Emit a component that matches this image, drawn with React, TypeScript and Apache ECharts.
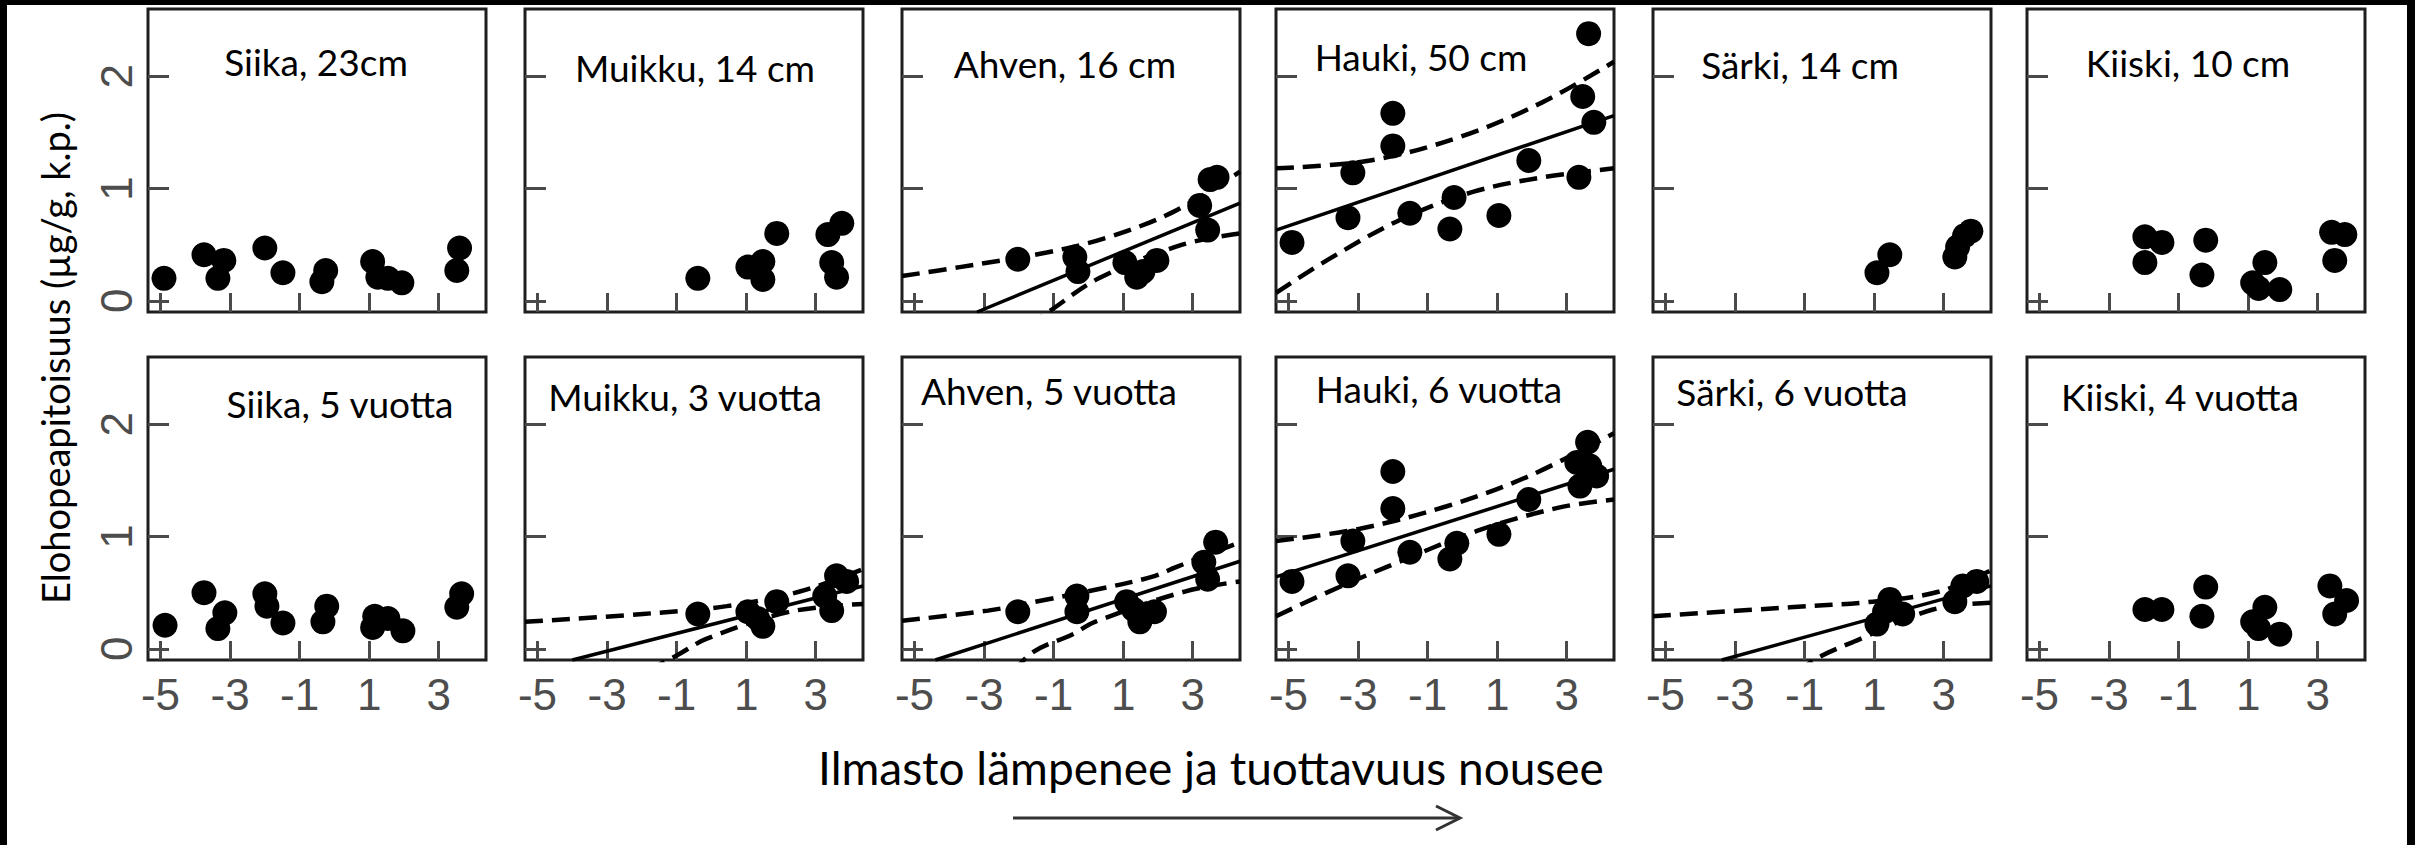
import React, { useEffect, useRef } from 'react';
import * as echarts from 'echarts';

type P = [number, number][];

// ---------- texts ----------
const panelTitles = [
  'Siika, 23cm', 'Muikku, 14 cm', 'Ahven, 16 cm', 'Hauki, 50 cm', 'Särki, 14 cm', 'Kiiski, 10 cm',
  'Siika, 5 vuotta', 'Muikku, 3 vuotta', 'Ahven, 5 vuotta', 'Hauki, 6 vuotta', 'Särki, 6 vuotta', 'Kiiski, 4 vuotta',
];
const yAxisTitle = 'Elohopeapitoisuus (µg/g, k.p.)';
const xAxisTitle = 'Ilmasto lämpenee ja tuottavuus nousee';

// ---------- axes ----------
const xTicks = [-5, -3, -1, 1, 3];
const yTicks = [0, 1, 2];
const xMin = -5.36, xMax = 4.36;
const yMin = -0.1, yMax = 2.6;

// ---------- data (row 1: same length fish) ----------
const siika23: P = [[-4.9, 0.2], [-3.75, 0.41], [-3.18, 0.36], [-3.35, 0.2], [-2.0, 0.47], [-1.48, 0.25], [-0.25, 0.27], [-0.36, 0.17], [1.1, 0.35], [1.25, 0.21], [1.54, 0.2], [1.94, 0.16], [3.6, 0.47], [3.52, 0.27]];
const muikku14: P = [[-0.39, 0.2], [1.05, 0.3], [1.48, 0.35], [1.48, 0.19], [1.88, 0.6], [3.35, 0.59], [3.75, 0.69], [3.46, 0.34], [3.6, 0.21]];
const ahven16: P = [[-2.03, 0.37], [-0.39, 0.39], [-0.3, 0.26], [1.05, 0.34], [1.57, 0.26], [1.97, 0.36], [1.39, 0.21], [3.5, 1.08], [3.7, 1.1], [3.2, 0.85], [3.43, 0.63]];
const hauki50: P = [[-4.9, 0.52], [-3.29, 0.74], [-3.15, 1.14], [-2.0, 1.67], [-2.0, 1.38], [-1.51, 0.78], [-0.36, 0.64], [-0.24, 0.92], [1.05, 0.76], [1.91, 1.25], [3.35, 1.1], [3.46, 1.82], [3.63, 2.38], [3.78, 1.59]];
const saerki14: P = [[1.08, 0.25], [1.45, 0.41], [3.32, 0.39], [3.4, 0.48], [3.6, 0.58], [3.78, 0.62]];
const kiiski10: P = [[-1.97, 0.57], [-1.48, 0.52], [-1.97, 0.34], [-0.22, 0.54], [-0.33, 0.23], [1.48, 0.34], [1.13, 0.16], [1.3, 0.11], [1.91, 0.1], [3.4, 0.61], [3.78, 0.59], [3.49, 0.36]];

// ---------- data (row 2: same age fish) ----------
const siika5: P = [[-4.87, 0.21], [-3.75, 0.5], [-3.15, 0.32], [-3.35, 0.18], [-2.0, 0.49], [-1.94, 0.38], [-1.48, 0.23], [-0.22, 0.38], [-0.33, 0.24], [1.16, 0.29], [1.1, 0.19], [1.54, 0.27], [1.97, 0.16], [3.66, 0.49], [3.52, 0.37]];
const muikku3: P = [[-0.39, 0.31], [1.05, 0.33], [1.33, 0.27], [1.48, 0.2], [1.88, 0.42], [3.6, 0.65], [3.89, 0.6], [3.26, 0.47], [3.46, 0.34]];
const ahven5: P = [[-2.03, 0.33], [-0.33, 0.47], [-0.33, 0.33], [1.1, 0.42], [1.48, 0.24], [1.9, 0.33], [1.3, 0.35], [3.66, 0.95], [3.32, 0.77], [3.43, 0.62]];
const hauki6: P = [[-4.9, 0.6], [-3.29, 0.65], [-3.15, 0.96], [-2.0, 1.58], [-2.0, 1.25], [-1.51, 0.86], [-0.36, 0.8], [-0.16, 0.94], [1.05, 1.02], [1.91, 1.33], [3.38, 1.45], [3.6, 1.84], [3.66, 1.63], [3.86, 1.54], [3.29, 1.66]];
const saerki6: P = [[1.45, 0.44], [1.08, 0.22], [1.82, 0.31], [1.3, 0.33], [3.32, 0.42], [3.55, 0.56], [3.95, 0.6]];
const kiiski4: P = [[-1.97, 0.35], [-1.48, 0.35], [-0.22, 0.55], [-0.33, 0.29], [1.48, 0.37], [1.13, 0.24], [1.3, 0.18], [1.91, 0.13], [3.35, 0.56], [3.83, 0.43], [3.49, 0.31]];

// ---------- regression lines and confidence bands ----------
const ahven16Fit: P = [[-3.2, -0.1], [4.36, 0.87]];
const ahven16Upper: P = [[-5.36, 0.22], [-3.7, 0.3], [-1.2, 0.43], [0.5, 0.56], [2.43, 0.79], [4.36, 1.15]];
const ahven16Lower: P = [[-3.7, -0.62], [-1.2, -0.11], [0.3, 0.2], [2.7, 0.5], [4.36, 0.6]];

const hauki50Fit: P = [[-5.36, 0.63], [4.36, 1.65]];
const hauki50Upper: P = [[-5.36, 1.18], [-2.66, 1.25], [-0.07, 1.46], [2.31, 1.77], [4.36, 2.13]];
const hauki50Lower: P = [[-5.36, 0.07], [-3.9, 0.36], [-1.8, 0.72], [0.3, 0.97], [2.31, 1.1], [4.36, 1.18]];

const muikku3Fit: P = [[-4.0, -0.1], [4.36, 0.56]];
const muikku3Upper: P = [[-5.36, 0.24], [-1.97, 0.31], [0.44, 0.38], [2.54, 0.51], [4.36, 0.71]];
const muikku3Lower: P = [[-2.5, -0.3], [-1.0, -0.06], [-0.13, 0.09], [2.25, 0.33], [4.36, 0.4]];

const ahven5Fit: P = [[-4.4, -0.1], [4.36, 0.78]];
const ahven5Upper: P = [[-5.36, 0.25], [-2.89, 0.34], [-1.34, 0.43], [0.27, 0.53], [1.82, 0.64], [2.54, 0.73], [4.36, 0.95]];
const ahven5Lower: P = [[-2.6, -0.4], [-1.68, -0.05], [-0.45, 0.13], [0.19, 0.24], [2.77, 0.51], [4.36, 0.6]];

const hauki6Fit: P = [[-5.36, 0.64], [4.36, 1.6]];
const hauki6Upper: P = [[-5.36, 0.96], [-2.95, 1.07], [-0.45, 1.27], [1.85, 1.53], [4.36, 1.92]];
const hauki6Lower: P = [[-5.36, 0.29], [-3.9, 0.5], [-2.17, 0.73], [0.42, 1.05], [2.8, 1.26], [4.36, 1.33]];

const saerki6Fit: P = [[-3.38, -0.1], [4.36, 0.56]];
const saerki6Upper: P = [[-5.36, 0.29], [-1.42, 0.37], [0.96, 0.42], [2.88, 0.51], [4.36, 0.7]];
const saerki6Lower: P = [[-1.2, -0.2], [-0.56, -0.07], [0.39, 0.06], [2.69, 0.35], [4.36, 0.41]];

const panelPoints: P[] = [siika23, muikku14, ahven16, hauki50, saerki14, kiiski10, siika5, muikku3, ahven5, hauki6, saerki6, kiiski4];
const panelFits: ({ fit: P; upper: P; lower: P } | null)[] = [
  null, null, { fit: ahven16Fit, upper: ahven16Upper, lower: ahven16Lower }, { fit: hauki50Fit, upper: hauki50Upper, lower: hauki50Lower }, null, null,
  null, { fit: muikku3Fit, upper: muikku3Upper, lower: muikku3Lower }, { fit: ahven5Fit, upper: ahven5Upper, lower: ahven5Lower }, { fit: hauki6Fit, upper: hauki6Upper, lower: hauki6Lower }, { fit: saerki6Fit, upper: saerki6Upper, lower: saerki6Lower }, null,
];

// ---------- layout ----------
const W = 2415, H = 845;
const colLefts = [148, 525, 902, 1276, 1653, 2027];
const rowTops = [9, 357];
const panelW = 338, panelH = 303;
const titleCenters: [number, number][] = [
  [316, 61], [695, 67], [1065, 63], [1421, 56], [1800, 64], [2188, 62],
  [340, 403], [685, 396], [1049, 390], [1439, 388], [1792, 391], [2180, 396],
];
const titleFont = 'Lato';

function buildOption(): any {
  const grid: any[] = [], xAxis: any[] = [], yAxis: any[] = [], series: any[] = [];
  for (let i = 0; i < 12; i++) {
    const row = Math.floor(i / 6), col = i % 6;
    grid.push({
      left: colLefts[col], top: rowTops[row], width: panelW, height: panelH,
      show: true, borderColor: '#1e1e1e', borderWidth: 3, backgroundColor: '#fff',
    });
    xAxis.push({
      gridIndex: i, type: 'value', min: xMin, max: xMax, position: 'bottom',
      axisLine: { show: false, onZero: false }, splitLine: { show: false },
      axisTick: { show: true, inside: true, length: 19, customValues: xTicks, lineStyle: { color: '#4a4a4a', width: 3 } },
      axisLabel: {
        show: row === 1, customValues: xTicks, fontSize: 44, color: '#4d4d4d',
        fontFamily: 'Liberation Sans', margin: 12,
      },
    });
    yAxis.push({
      gridIndex: i, type: 'value', min: yMin, max: yMax, position: 'left',
      axisLine: { show: false, onZero: false }, splitLine: { show: false },
      axisTick: { show: true, inside: true, length: 21, customValues: yTicks, lineStyle: { color: '#4a4a4a', width: 3 } },
      axisLabel: {
        show: col === 0, customValues: yTicks, fontSize: 44, color: '#4d4d4d', rotate: 90,
        fontFamily: 'Liberation Sans', margin: 10,
      },
    });
    const f = panelFits[i];
    if (f) {
      series.push({
        type: 'line', xAxisIndex: i, yAxisIndex: i, data: f.fit, symbol: 'none', clip: true,
        lineStyle: { color: '#000', width: 3.5 }, z: 2, silent: true,
      });
      for (const band of [f.upper, f.lower]) {
        series.push({
          type: 'line', xAxisIndex: i, yAxisIndex: i, data: band, symbol: 'none', clip: true, smooth: 0.35,
          lineStyle: { color: '#000', width: 4.5, type: [18, 9] }, z: 2, silent: true,
        });
      }
    }
    series.push({
      type: 'scatter', xAxisIndex: i, yAxisIndex: i, data: panelPoints[i], symbolSize: 25,
      itemStyle: { color: '#000', opacity: 1 }, z: 3, silent: true,
    });
  }

  const graphic: any[] = [
    { type: 'rect', shape: { x: 0, y: 0, width: 7, height: H }, style: { fill: '#000' }, silent: true },
    { type: 'rect', shape: { x: 0, y: 0, width: W, height: 5 }, style: { fill: '#000' }, silent: true },
    { type: 'rect', shape: { x: 2407, y: 0, width: 8, height: H }, style: { fill: '#000' }, silent: true },
  ];
  panelTitles.forEach((t, i) => {
    graphic.push({
      type: 'text', x: titleCenters[i][0], y: titleCenters[i][1], z: 10,
      style: {
        text: t, fill: '#000', font: `37px ${titleFont}`,
        align: 'center', verticalAlign: 'middle', textAlign: 'center', textVerticalAlign: 'middle',
      },
    });
  });
  graphic.push({
    type: 'text', x: 55, y: 358, rotation: Math.PI / 2, z: 10,
    style: {
      text: yAxisTitle, fill: '#000', font: `38px ${titleFont}`,
      align: 'center', verticalAlign: 'middle', textAlign: 'center', textVerticalAlign: 'middle',
    },
  });
  graphic.push({
    type: 'text', x: 1211, y: 767, z: 10,
    style: {
      text: xAxisTitle, fill: '#000', font: `46px ${titleFont}`,
      align: 'center', verticalAlign: 'middle', textAlign: 'center', textVerticalAlign: 'middle',
    },
  });
  graphic.push({ type: 'line', shape: { x1: 1013, y1: 818, x2: 1458, y2: 818 }, style: { stroke: '#333', lineWidth: 3 } });
  graphic.push({ type: 'polyline', shape: { points: [[1436, 806], [1460, 818], [1436, 830]] }, style: { stroke: '#333', lineWidth: 3, fill: null } });

  return { animation: false, backgroundColor: '#fff', grid, xAxis, yAxis, series, graphic };
}

export default function App() {
  const ref = useRef<HTMLDivElement>(null);
  useEffect(() => {
    document.body.style.margin = '0';
    const chart = echarts.init(ref.current!, undefined, { renderer: 'svg', width: W, height: H });
    chart.setOption(buildOption());
    return () => chart.dispose();
  }, []);
  return <div ref={ref} style={{ width: W, height: H, position: 'absolute', left: 0, top: 0 }} />;
}
